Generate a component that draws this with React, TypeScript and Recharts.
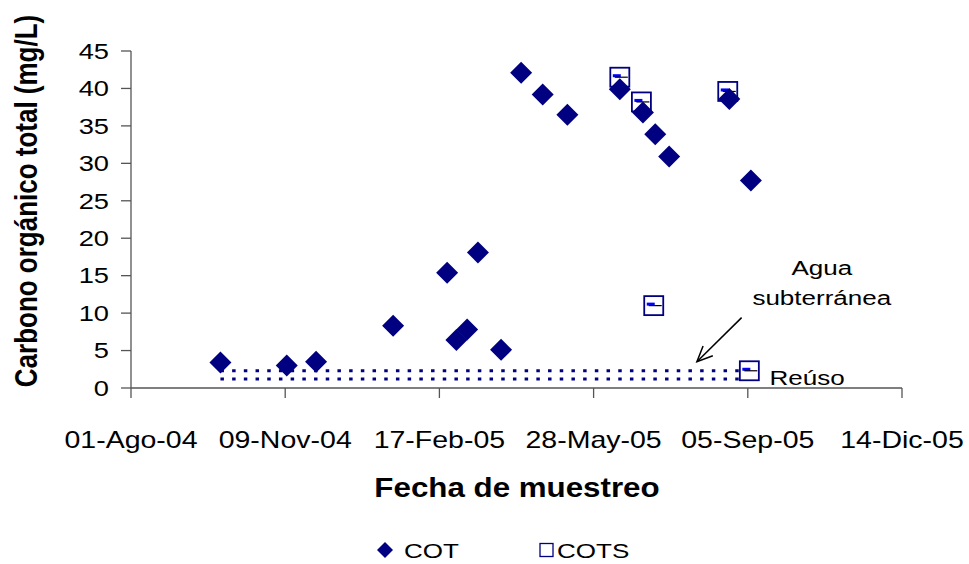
import React from 'react';
import {
  ScatterChart,
  Scatter,
  XAxis,
  YAxis,
  ReferenceLine,
  ReferenceDot,
  Customized,
} from 'recharts';

// ---- data (x = days since 01-Ago-04) ----
const xTickDays = [0, 100, 200, 300, 400, 500];
const xTickLabels = ['01-Ago-04', '09-Nov-04', '17-Feb-05', '28-May-05', '05-Sep-05', '14-Dic-05'];
const yTicks = [0, 5, 10, 15, 20, 25, 30, 35, 40, 45];

const cotDays = [58, 101, 120, 170, 205, 211, 218, 225, 240, 253, 267, 283, 317, 332, 340, 349, 388, 402];
const cotValues = [3.4, 3.0, 3.5, 8.3, 15.4, 6.4, 7.8, 18.1, 5.1, 42.1, 39.2, 36.5, 39.9, 36.8, 33.9, 30.9, 38.6, 27.7];

const cotsDays = [317, 331, 339, 387, 401];
const cotsValues = [41.5, 38.2, 11.0, 39.6, 2.3];

// reference levels (dotted lines)
const refStartDay = 58;
const refEndDay = 399;
const aguaLevel = 2.3;
const reusoLevel = 1.2;

// annotation anchors (data coordinates)
const arrowFrom = { x: 396, y: 9.4 };
const arrowTo = { x: 367, y: 3.5 };
const aguaLabelPos = { x: 448, y: 15.1 };
const subLabelPos = { x: 448, y: 11.1 };
const reusoLabelPos = { x: 414, y: 0.45 };

const cotData = cotDays.map((d, i) => ({ day: d, value: cotValues[i] }));
const cotsData = cotsDays.map((d, i) => ({ day: d, value: cotsValues[i] }));

// ---- styling ----
const SX = 1.24;
const FONT = "'Liberation Sans', Arial, Helvetica, sans-serif";
const NAVY = '#000080';
const AXIS = '#555555';

const SText = ({ x, y, size, anchor = 'start', bold = false, dy, children, rotate, sx = SX }: any) => (
  <text
    transform={`translate(${x} ${y}) scale(${sx} 1)${rotate ? ` rotate(${rotate})` : ''}`}
    textAnchor={anchor}
    fontFamily={FONT}
    fontSize={size}
    fontWeight={bold ? 'bold' : 'normal'}
    fill="#000"
    dy={dy}
  >
    {children}
  </text>
);

const Diamond = (props: any) => {
  const { cx, cy } = props;
  const r = 11;
  return <polygon points={`${cx},${cy - r} ${cx + r},${cy} ${cx},${cy + r} ${cx - r},${cy}`} fill={NAVY} />;
};

const Square = (props: any) => {
  const { cx, cy } = props;
  const h = 9.5;
  return (
    <g>
      <rect x={cx - h} y={cy - h} width={2 * h} height={2 * h} fill="#fff" stroke={NAVY} strokeWidth={1.8} />
      <rect x={cx - 7} y={cy - 3} width={8} height={3} fill="#0000ff" />
      <line x1={cx - 5} y1={cy} x2={cx + 8} y2={cy} stroke="#000" strokeWidth={1.2} />
    </g>
  );
};

const YTick = (props: any) => {
  const { x, y, payload } = props;
  return (
    <SText x={x} y={y} size={22} anchor="end" dy="0.355em">
      {payload.value}
    </SText>
  );
};

const XTick = (props: any) => {
  const { x, y, payload } = props;
  const idx = xTickDays.indexOf(payload.value);
  return (
    <SText x={x} y={y + 50} size={23} anchor="middle">
      {idx >= 0 ? xTickLabels[idx] : ''}
    </SText>
  );
};

const ArrowShape = (props: any) => {
  const { x1, y1, x2, y2 } = props;
  const ang = Math.atan2(y2 - y1, x2 - x1);
  const len = 17;
  const spread = 0.42;
  const a1x = x2 - len * Math.cos(ang - spread);
  const a1y = y2 - len * Math.sin(ang - spread);
  const a2x = x2 - len * Math.cos(ang + spread);
  const a2y = y2 - len * Math.sin(ang + spread);
  return (
    <g stroke="#000" strokeWidth={1.5} fill="none">
      <line x1={x1} y1={y1} x2={x2} y2={y2} />
      <polyline points={`${a1x},${a1y} ${x2},${y2} ${a2x},${a2y}`} />
    </g>
  );
};

const textDot = (text: string, anchor: string) => (props: any) => (
  <SText x={props.cx} y={props.cy} size={21} anchor={anchor}>
    {text}
  </SText>
);

const Titles = () => (
  <g>
    <SText x={37} y={201} size={26} bold anchor="middle" rotate={-90}>
      Carbono orgánico total (mg/L)
    </SText>
    <SText x={517} y={497} size={27} sx={1.16} bold anchor="middle">
      Fecha de muestreo
    </SText>
    {/* legend */}
    <polygon points="385,542 393,550 385,558 377,550" fill={NAVY} />
    <SText x={404} y={558} size={21}>COT</SText>
    <rect x={540} y={543.5} width={13} height={13} fill="#fff" stroke={NAVY} strokeWidth={1.3} />
    <SText x={557} y={558} size={21}>COTS</SText>
  </g>
);

export default function App() {
  return (
    <div style={{ position: 'absolute', left: 0, top: 0, width: 969, height: 564, background: '#fff' }}>
      <ScatterChart width={969} height={564} margin={{ top: 51, right: 67, bottom: 0, left: 0 }}>
        <XAxis
          type="number"
          dataKey="day"
          domain={[0, 500]}
          ticks={xTickDays}
          interval={0}
          tickSize={10}
          tickMargin={0}
          height={176}
          stroke={AXIS}
          axisLine={{ stroke: AXIS, strokeWidth: 1.3 }}
          tickLine={{ stroke: AXIS, strokeWidth: 1.3 }}
          tick={<XTick />}
          allowDataOverflow
        />
        <YAxis
          type="number"
          dataKey="value"
          domain={[0, 45]}
          ticks={yTicks}
          interval={0}
          tickSize={10}
          tickMargin={12}
          width={131}
          stroke={AXIS}
          axisLine={{ stroke: AXIS, strokeWidth: 1.3 }}
          tickLine={{ stroke: AXIS, strokeWidth: 1.3 }}
          tick={<YTick />}
          allowDataOverflow
        />
        <ReferenceLine
          segment={[{ x: refStartDay, y: aguaLevel }, { x: refEndDay, y: aguaLevel }]}
          stroke={NAVY}
          strokeWidth={3}
          strokeDasharray="3.5 8.2"
        />
        <ReferenceLine
          segment={[{ x: refStartDay, y: reusoLevel }, { x: refEndDay, y: reusoLevel }]}
          stroke={NAVY}
          strokeWidth={3}
          strokeDasharray="3.5 8.2"
        />
        <ReferenceLine
          segment={[arrowFrom, arrowTo]}
          shape={<ArrowShape />}
        />
        <Scatter name="COTS" data={cotsData} shape={<Square />} isAnimationActive={false} />
        <Scatter name="COT" data={cotData} shape={<Diamond />} isAnimationActive={false} />
        <ReferenceDot x={aguaLabelPos.x} y={aguaLabelPos.y} r={0} shape={textDot('Agua', 'middle')} />
        <ReferenceDot x={subLabelPos.x} y={subLabelPos.y} r={0} shape={textDot('subterránea', 'middle')} />
        <ReferenceDot x={reusoLabelPos.x} y={reusoLabelPos.y} r={0} shape={textDot('Reúso', 'start')} />
        <Customized component={<Titles />} />
      </ScatterChart>
    </div>
  );
}
